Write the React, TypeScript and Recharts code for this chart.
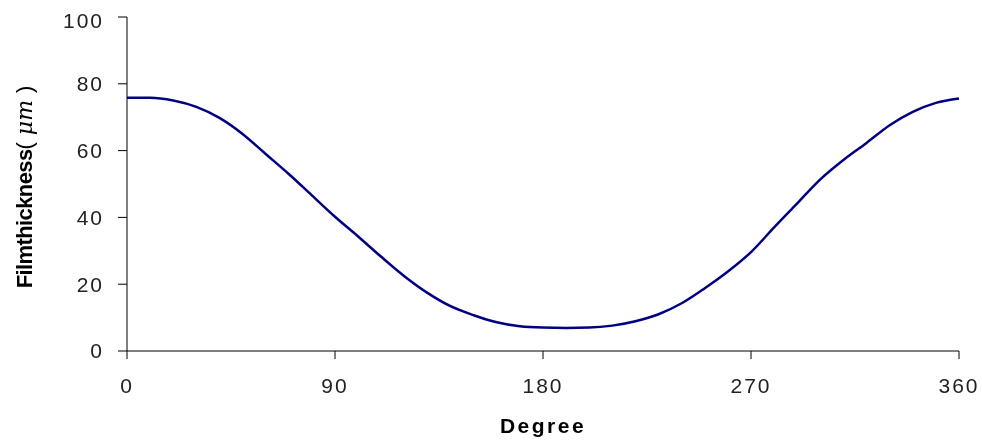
import React from 'react';
import { LineChart, Line, XAxis, YAxis } from 'recharts';

const degrees = [0, 10, 20, 30, 40, 50, 60, 70, 80, 90, 100, 110, 120, 130, 140, 150, 160, 170, 180, 190, 200, 210, 220, 230, 240, 250, 260, 270, 280, 290, 300, 310, 320, 330, 340, 350, 360];
const thickness = [75.8, 75.8, 75.0, 73.1, 69.8, 65.0, 59.0, 53.0, 46.6, 40.2, 34.3, 28.2, 22.4, 17.4, 13.4, 10.7, 8.6, 7.4, 7.0, 6.9, 7.0, 7.6, 8.9, 11.0, 14.3, 18.8, 23.8, 29.6, 37.0, 44.2, 51.4, 57.2, 62.3, 67.6, 71.6, 74.3, 75.6];
const xTicks = [0, 90, 180, 270, 360];
const yTicks = [0, 20, 40, 60, 80, 100];

const data = degrees.map((d, i) => ({ deg: d, t: thickness[i] }));

const FONT = '"Liberation Sans", Arial, sans-serif';

const YLabel = (props: any) => {
  const vb = props.viewBox || { x: 0, y: 0, width: 0, height: 0 };
  const cx = vb.x + 16;
  const cy = vb.y + vb.height / 2 + 3;
  return (
    <text
      x={cx}
      y={cy}
      transform={`rotate(-90, ${cx}, ${cy})`}
      textAnchor="middle"
      dominantBaseline="central"
      fontFamily={FONT}
      fontSize={22}
      fill="#000"
    >
      <tspan fontWeight="bold" letterSpacing={-0.6}>Filmthickness</tspan>
      <tspan>(</tspan>
      <tspan fontStyle="italic" fontFamily='"DejaVu Serif", serif'> μm </tspan>
      <tspan> )</tspan>
    </text>
  );
};

export default function App() {
  return (
    <div style={{ position: 'fixed', left: 8, top: 8, width: 974, height: 430 }}>
      <LineChart
        width={974}
        height={430}
        data={data}
        margin={{ top: 9, right: 23, left: 0, bottom: 0 }}
      >
        <XAxis
          dataKey="deg"
          type="number"
          domain={[0, 360]}
          ticks={xTicks}
          height={87}
          tickSize={8}
          tickMargin={19}
          stroke="#000"
          tick={{ fill: '#222', fontSize: 21, fontFamily: FONT, letterSpacing: 2 }}
          label={{ value: 'Degree', position: 'insideBottom', offset: 5, fill: '#000', fontSize: 21, fontWeight: 'bold', fontFamily: FONT, letterSpacing: 2.5 }}
        />
        <YAxis
          type="number"
          domain={[0, 100]}
          ticks={yTicks}
          width={119}
          tickSize={9}
          tickMargin={14}
          stroke="#000"
          tick={{ fill: '#222', fontSize: 21, fontFamily: FONT, letterSpacing: 2 }}
          label={<YLabel />}
        />
        <Line
          type="monotone"
          dataKey="t"
          stroke="#000080"
          strokeWidth={2.5}
          dot={false}
          isAnimationActive={false}
        />
      </LineChart>
    </div>
  );
}
